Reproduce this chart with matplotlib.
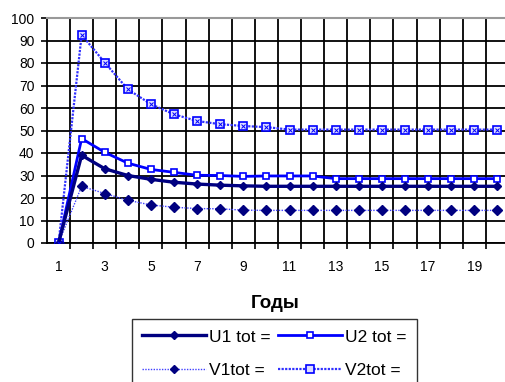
import matplotlib
matplotlib.use("Agg")
import matplotlib.pyplot as plt
import numpy as np

plt.rcParams['font.family'] = ['Liberation Sans', 'DejaVu Sans']

years = list(range(1, 21))
u1 = [0, 39, 33, 30, 28.3, 27, 26.2, 25.7, 25.4, 25.2, 25.2, 25.2, 25.2, 25.2, 25.2, 25.2, 25.2, 25.2, 25.2, 25.2]
u2 = [0, 46.4, 40.3, 35.5, 32.7, 31.4, 30.1, 30, 29.6, 29.8, 29.8, 29.8, 28.6, 28.6, 28.6, 28.6, 28.6, 28.6, 28.6, 28.6]
v1 = [0, 25.2, 22, 19, 16.9, 15.9, 15.3, 15.2, 14.6, 14.5, 14.5, 14.5, 14.5, 14.5, 14.5, 14.5, 14.5, 14.5, 14.5, 14.5]
v2 = [0, 92.5, 80.2, 68.3, 61.7, 57.2, 54.2, 52.8, 52.0, 51.5, 50.4, 50.4, 50.4, 50.4, 50.4, 50.4, 50.4, 50.4, 50.4, 50.4]
labels = ['U1 tot =', 'U2 tot =', 'V1tot =', 'V2tot =']
xticklabels = [str(i) for i in range(1, 20, 2)]

fig = plt.figure(figsize=(5.05, 3.82), dpi=100)
W, H = 505, 382
ax = fig.add_axes([47 / W, (H - 243) / H, (505 - 47) / W, (243 - 18) / H])

navy = '#000080'
blue = '#0000FF'

h_u1, = ax.plot(years, u1, color=navy, lw=2.4, marker='D', ms=4.2, mfc=navy, mec=navy, zorder=5)
h_u2, = ax.plot(years, u2, color=blue, lw=2.0, marker='s', ms=5, mfc='white', mec=blue, mew=1.2, zorder=4)
h_v1, = ax.plot(years, v1, color='#4040FF', lw=1.0, ls=(0, (1, 1)), marker='D', ms=5, mfc=navy, mec=navy, zorder=4)
h_v2, = ax.plot(years, v2, color='#3030FF', lw=1.6, ls=(0, (1, 0.6)), marker='s', ms=6, mfc='#dcdcff', mec=blue, mew=1.2, zorder=4)
ax.plot(years, v2, ls='none', marker='x', ms=2.5, mec=blue, mew=0.7, zorder=6)

ax.set_xlim(0.5, 20.33)
ax.set_ylim(0, 100)
ax.set_yticks(np.arange(0, 101, 10))
ax.set_xticks(np.arange(1.5, 20.5, 1.0))
ax.set_xticklabels([])
ax.set_xticks(np.arange(1, 20, 2), minor=True)
ax.set_xticklabels(xticklabels, minor=True)
ax.tick_params(axis='x', which='minor', length=0, pad=12, labelsize=10)
ax.tick_params(axis='x', which='major', length=4, width=1.2, direction='out')
ax.tick_params(axis='y', length=4, width=1.2, direction='out', labelsize=10, pad=5)

ax.grid(True, which='major', color='black', lw=1.3)
for sp in ['top', 'right']:
    ax.spines[sp].set_visible(False)
for sp in ['left', 'bottom']:
    ax.spines[sp].set_linewidth(1.3)
ax.axhline(100, color='#999999', lw=1.5, zorder=3, clip_on=False)
ax.set_axisbelow(True)

fig.text(275 / W, 1 - 303 / H, 'Годы', ha='center', va='center', fontsize=13.5, fontweight='bold')

leg = fig.legend([h_u1, h_v1, h_u2, h_v2], [labels[0], labels[2], labels[1], labels[3]],
                 ncol=2, loc='upper left', bbox_to_anchor=(132 / W, 1 - 319 / H),
                 frameon=True, fancybox=False, edgecolor='black', fontsize=12.5,
                 handlelength=3.65, handletextpad=0.18, columnspacing=0.45,
                 borderpad=0.6, labelspacing=1.05, borderaxespad=0, markerscale=0.9)
leg.get_frame().set_linewidth(1.0)

fig.savefig('out.png', dpi=100)
